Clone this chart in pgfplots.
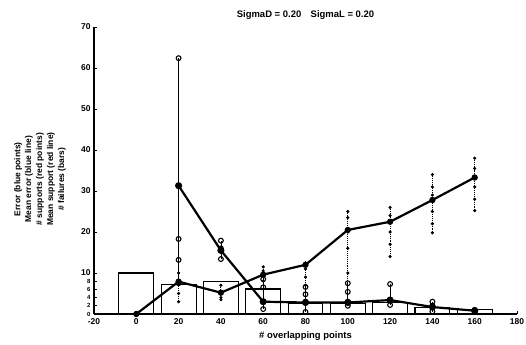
\documentclass[border=0pt]{standalone}
\usepackage{pgfplots}
\pgfplotsset{compat=1.18}
\usepackage{fontspec}
\setmainfont{Liberation Sans}
\begin{document}
\begin{tikzpicture}[font=\bfseries]
\begin{axis}[name=ax,
  scale only axis, width=423bp, height=287bp,
  xmin=-20, xmax=180, ymin=0, ymax=70,
  axis lines=left, axis line style={-, line width=1.4pt},
  xtick={-20,0,20,40,60,80,100,120,140,160,180},
  ytick={10,20,30,40,50,60,70},
  extra y ticks={0,2,4,6,8},
  extra y tick style={tick label style={font=\bfseries\fontsize{6}{6}\selectfont}},
  tick align=inside, major tick length=3bp,
  tick style={black, line width=0.9pt},
  /pgf/number format/assume math mode=true,
  tick label style={font=\bfseries\fontsize{8.5}{9}\selectfont},
  xticklabel style={yshift=-1.5bp},
  xlabel={\# overlapping points},
  xlabel style={font=\bfseries\fontsize{9.5}{10}\selectfont, yshift=0bp},
  title={SigmaD = 0.20\quad SigmaL = 0.20},
  title style={font=\bfseries\fontsize{9.5}{10}\selectfont, yshift=-2bp},
  clip=false,
]
% bars: # failures
\addplot[ybar, bar width=16.5, bar shift=0pt, fill=white, draw=black, line width=1.1pt]
  coordinates {(0,10)(20,7.1)(40,8.0)(60,6.1)(80,2.6)(100,2.6)(120,2.8)(140,1.6)(160,1.0)};
% error points (circles) with range lines
\addplot[black, line width=0.7pt, mark=o, mark size=2.4bp, mark options={line width=1.1pt}]
  coordinates {(20,62.4)(20,18.3)(20,13.2)(20,7.5)};
\addplot[black, line width=0.7pt, mark=o, mark size=2.4bp, mark options={line width=1.1pt}]
  coordinates {(40,17.9)(40,13.4)(40,16)};
\addplot[black, line width=0.7pt, mark=o, mark size=2.4bp, mark options={line width=1.1pt}]
  coordinates {(60,8.5)(60,6.5)(60,3)(60,1.2)};
\addplot[black, line width=0.7pt, mark=o, mark size=2.4bp, mark options={line width=1.1pt}]
  coordinates {(80,6.6)(80,4.8)(80,3)(80,0.5)};
\addplot[black, line width=0.7pt, mark=o, mark size=2.4bp, mark options={line width=1.1pt}]
  coordinates {(100,7.5)(100,5.4)(100,3)(100,2)};
\addplot[black, line width=0.7pt, mark=o, mark size=2.4bp, mark options={line width=1.1pt}]
  coordinates {(120,7.3)(120,3.5)(120,2.2)};
\addplot[black, line width=0.7pt, mark=o, mark size=2.4bp, mark options={line width=1.1pt}]
  coordinates {(140,3)(140,2)(140,0.6)};
\addplot[black, line width=0.7pt, mark=o, mark size=2.4bp, mark options={line width=1.1pt}]
  coordinates {(160,1)(160,0.5)};
% support points (dots) with dotted range lines
\addplot[black, densely dotted, line width=0.9pt, mark=*, mark size=1.1bp, mark options={solid}]
  coordinates {(20,10)(20,5)(20,3)};
\addplot[black, densely dotted, line width=0.9pt, mark=*, mark size=1.1bp, mark options={solid}]
  coordinates {(40,7)(40,4)(40,3.5)};
\addplot[black, densely dotted, line width=0.9pt, mark=*, mark size=1.1bp, mark options={solid}]
  coordinates {(60,11.5)(60,10.5)(60,8)};
\addplot[black, densely dotted, line width=0.9pt, mark=*, mark size=1.1bp, mark options={solid}]
  coordinates {(80,12.5)(80,11)(80,9)(80,7)};
\addplot[black, densely dotted, line width=0.9pt, mark=*, mark size=1.1bp, mark options={solid}]
  coordinates {(100,25)(100,23.5)(100,20)(100,16)(100,10)(100,3)};
\addplot[black, densely dotted, line width=0.9pt, mark=*, mark size=1.1bp, mark options={solid}]
  coordinates {(120,26)(120,24)(120,20)(120,17)(120,14)};
\addplot[black, densely dotted, line width=0.9pt, mark=*, mark size=1.1bp, mark options={solid}]
  coordinates {(140,34)(140,31)(140,29)(140,25)(140,22)(140,19.8)};
\addplot[black, densely dotted, line width=0.9pt, mark=*, mark size=1.1bp, mark options={solid}]
  coordinates {(160,38)(160,35.5)(160,33)(160,31)(160,28)(160,25.2)};
% mean error line
\addplot[black, line width=2.2pt, mark=*, mark size=2.4bp]
  coordinates {(20,31.3)(40,15.5)(60,3)(80,2.8)(100,2.8)(120,3.4)(140,1.7)(160,0.8)};
% mean support line
\addplot[black, line width=2.2pt, mark=*, mark size=2bp]
  coordinates {(0,0)(20,7.9)(40,5.2)(60,9.6)(80,12)(100,20.5)(120,22.5)(140,27.8)(160,33.3)};
% y label block
\node[rotate=90, align=center, font=\bfseries\fontsize{8.5}{11}\selectfont]
  at ([xshift=-54bp]rel axis cs:0,0.47)
  {Error (blue points)\\Mean error (blue line)\\\# supports (red points)\\Mean support (red line)\\\# failures (bars)};
\end{axis}
\pgfresetboundingbox
\path (ax.south west) ++(-94bp,-31bp) rectangle ++(526bp,345bp);
\end{tikzpicture}
\end{document}
